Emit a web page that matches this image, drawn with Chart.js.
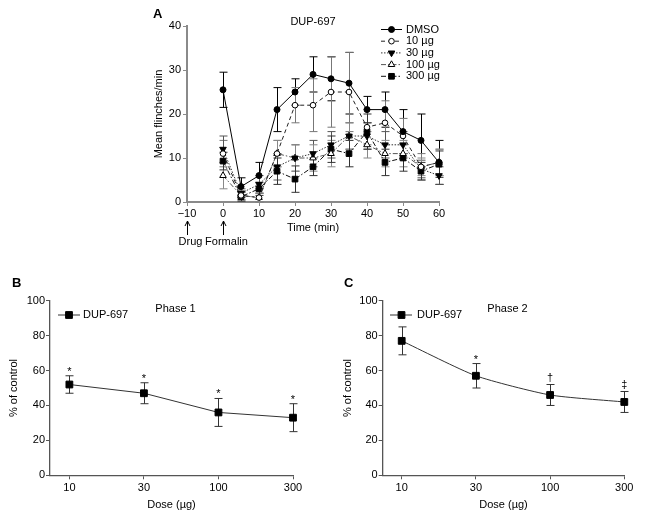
<!DOCTYPE html>
<html>
<head>
<meta charset="utf-8">
<script src="https://cdn.jsdelivr.net/npm/chart.js@4.4.1/dist/chart.umd.min.js"></script>
<style>
  html, body { margin: 0; padding: 0; background: #fff; }
  body { position: relative; width: 652px; height: 515px; overflow: hidden; }
  canvas { position: absolute; }
</style>
</head>
<body>
<canvas id="graficoA" width="652" height="252" style="left:0;top:0"></canvas>
<canvas id="graficoB" width="330" height="255" style="left:0;top:260px"></canvas>
<canvas id="graficoC" width="322" height="255" style="left:330px;top:260px"></canvas>
<script>
// Datos del panel A (curso temporal)
const tiempos = [0, 5, 10, 15, 20, 25, 30, 35, 40, 45, 50, 55, 60];
const grupos = ['DMSO', '10 µg', '30 µg', '100 µg', '300 µg'];
const dmso     = [25.5, 3.5, 6, 21, 25, 29, 28, 27, 21, 21, 16, 14, 9];
const dmsoErr  = [4, 2, 3, 5, 3, 4, 5, 7, 3, 4, 5, 6, 5];
const d10      = [11, 1.5, 1, 11, 22, 22, 25, 25, 17, 18, 15, 8, 9];
const d10Err   = [3, 1, 1, 3, 4, 6, 8, 9, 4, 5, 4, 3, 3];
const d30      = [12, 2, 4, 8, 10, 11, 13, 15, 15, 13, 13, 7.5, 6];
const d30Err   = [3, 1, 2, 3, 3, 3, 3, 3, 3, 3, 3, 2, 2];
const d100     = [6, 1.5, 1, 11, 10, 10, 11, 15, 13, 11, 11, 8, 9];
const d100Err  = [3, 1, 1, 3, 3, 3, 3, 3, 3, 3, 3, 2, 3];
const d300     = [9.3, 1.2, 3, 7, 5.2, 8, 12, 11, 16, 9, 10, 7, 8.6];
const d300Err  = [2, 1, 1.5, 3, 3, 2, 3, 3, 4, 3, 3, 2, 3];
const ticksTiempo = [-10, 0, 10, 20, 30, 40, 50, 60];
const flechas = [-10, 0];
const flechasTexto = ['Drug', 'Formalin'];

// Datos de los paneles B y C (dosis-respuesta)
const dosis = ['10', '30', '100', '300'];
const fase1    = [52, 47, 36, 33];
const fase1Err = [5, 6, 8, 8];
const fase1Sig = ['*', '*', '*', '*'];
const fase2    = [77, 57, 46, 42];
const fase2Err = [8, 7, 6, 6];
const fase2Sig = ['', '*', '†', '‡'];

const fuente = "'Liberation Sans', Arial, Helvetica, sans-serif";
Chart.defaults.font.family = fuente;
Chart.defaults.font.size = 11;
Chart.defaults.color = '#000';

function dibujarMarcador(ctx, ds, x, y) {
    ctx.save();
    ctx.setLineDash([]);
    ctx.fillStyle = ds.pointBackgroundColor;
    ctx.strokeStyle = ds.pointBorderColor;
    ctx.lineWidth = ds.pointBorderWidth;
    Chart.helpers.drawPoint(ctx, {
        pointStyle: ds.pointStyle,
        rotation: ds.pointRotation || 0,
        radius: ds.pointRadius,
        borderWidth: ds.pointBorderWidth
    }, x, y);
    ctx.restore();
}

// barras de error, debajo de las lineas
const pluginErrores = {
    id: 'errores',
    beforeDatasetsDraw(chart) {
        const ctx = chart.ctx;
        const yS = chart.scales.y;
        chart.data.datasets.forEach((ds, i) => {
            if (!ds.errores) return;
            const meta = chart.getDatasetMeta(i);
            ctx.save();
            ctx.strokeStyle = ds.colorError;
            ctx.lineWidth = 1;
            meta.data.forEach((pt, j) => {
                const v = ds.data[j].y, e = ds.errores[j];
                const y1 = yS.getPixelForValue(v + e);
                const y2 = yS.getPixelForValue(v - e);
                const x = Math.round(pt.x) + 0.5;
                ctx.beginPath();
                ctx.moveTo(x, y1); ctx.lineTo(x, y2);
                ctx.moveTo(x - 4, y1); ctx.lineTo(x + 4, y1);
                ctx.moveTo(x - 4, y2); ctx.lineTo(x + 4, y2);
                ctx.stroke();
            });
            ctx.restore();
        });
    }
};

// letras, titulo, leyenda, marcas de significancia y flechas
const pluginPanel = {
    id: 'panel',
    afterDraw(chart, args, o) {
        const { ctx, chartArea } = chart;
        ctx.save();
        ctx.fillStyle = '#000';
        ctx.textBaseline = 'middle';
        ctx.textAlign = 'left';
        ctx.font = 'bold 13px ' + fuente;
        ctx.fillText(o.letra, o.letraX, o.letraY);

        ctx.font = '11px ' + fuente;
        ctx.textAlign = 'center';
        ctx.fillText(o.titulo, (chartArea.left + chartArea.right) / 2 + o.tituloDx, o.tituloY);

        const L = o.leyenda;
        chart.data.datasets.forEach((ds, i) => {
            const y = L.y0 + i * L.dy;
            ctx.strokeStyle = ds.borderColor;
            ctx.lineWidth = 1;
            ctx.setLineDash(ds.borderDash || []);
            ctx.beginPath();
            ctx.moveTo(L.x0, y); ctx.lineTo(L.x1, y);
            ctx.stroke();
            ctx.setLineDash([]);
            dibujarMarcador(ctx, ds, L.xm, y);
            ctx.fillStyle = '#000';
            ctx.textAlign = 'left';
            ctx.textBaseline = 'middle';
            ctx.fillText(ds.label, L.xt, y);
        });

        if (o.marcas) {
            const ds = chart.data.datasets[0];
            const meta = chart.getDatasetMeta(0);
            ctx.textAlign = 'center';
            ctx.textBaseline = 'alphabetic';
            o.marcas.forEach((txt, j) => {
                if (!txt) return;
                const yTop = chart.scales.y.getPixelForValue(ds.data[j].y + ds.errores[j]);
                const m = ctx.measureText(txt);
                const yc = yTop - 7;
                ctx.fillText(txt, meta.data[j].x, yc + (m.actualBoundingBoxAscent - m.actualBoundingBoxDescent) / 2);
            });
        }

        if (o.flechas) {
            const xS = chart.scales.x;
            ctx.strokeStyle = '#000';
            ctx.lineWidth = 1;
            o.flechas.forEach((v, k) => {
                const x = Math.round(xS.getPixelForValue(v)) + 0.5;
                ctx.beginPath();
                ctx.moveTo(x, 235); ctx.lineTo(x, 221);
                ctx.moveTo(x - 2.5, 226); ctx.lineTo(x, 221); ctx.lineTo(x + 2.5, 226);
                ctx.stroke();
                ctx.textAlign = 'center';
                ctx.textBaseline = 'middle';
                ctx.fillText(o.flechasTexto[k], x + 3, 242);
            });
        }
        ctx.restore();
    }
};

function ejeBase(color, ancho) {
    return {
        border: { display: true, color: color, width: ancho },
        grid: { drawOnChartArea: false, drawTicks: true, tickLength: 4, color: color, lineWidth: 1 }
    };
}

// ---------- Panel A ----------
const estilosA = [
    { color: '#000', dash: [], estilo: 'circle', radio: 3, relleno: '#000', rot: 0, err: '#000' },
    { color: '#222', dash: [4, 3], estilo: 'circle', radio: 2.8, relleno: '#fff', rot: 0, err: '#777' },
    { color: '#333', dash: [1.5, 1.5], estilo: 'triangle', radio: 3.8, relleno: '#000', rot: 180, err: '#555' },
    { color: '#555', dash: [5, 2, 1.5, 2], estilo: 'triangle', radio: 3.8, relleno: '#fff', rot: 0, err: '#888' },
    { color: '#111', dash: [5, 2, 1.5, 2], estilo: 'rect', radio: 4, relleno: '#000', rot: 0, err: '#333' }
];
const seriesA = [dmso, d10, d30, d100, d300];
const erroresA = [dmsoErr, d10Err, d30Err, d100Err, d300Err];

new Chart(document.getElementById('graficoA'), {
    type: 'line',
    data: {
        datasets: seriesA.map((serie, i) => ({
            label: grupos[i],
            data: tiempos.map((t, j) => ({ x: t, y: serie[j] })),
            errores: erroresA[i],
            colorError: estilosA[i].err,
            borderColor: estilosA[i].color,
            borderWidth: 1,
            borderDash: estilosA[i].dash,
            pointStyle: estilosA[i].estilo,
            pointRotation: estilosA[i].rot,
            pointRadius: estilosA[i].radio,
            pointBackgroundColor: estilosA[i].relleno,
            pointBorderColor: '#000',
            pointBorderWidth: 1,
            tension: 0,
            fill: false,
            clip: false
        }))
    },
    options: {
        responsive: false,
        devicePixelRatio: 1,
        animation: false,
        events: [],
        layout: { padding: { left: 152, right: 213, top: 26, bottom: 17 } },
        plugins: {
            legend: { display: false },
            tooltip: { enabled: false },
            panel: {
                letra: 'A', letraX: 153, letraY: 14,
                titulo: 'DUP-697', tituloDx: 0, tituloY: 22,
                leyenda: { x0: 381, x1: 402, xm: 391.5, xt: 406, y0: 29.5, dy: 11.7 },
                flechas: flechas, flechasTexto: flechasTexto
            }
        },
        scales: {
            x: Object.assign(ejeBase('#8a8a8a', 2), {
                type: 'linear', min: -10, max: 60,
                afterBuildTicks: (s) => { s.ticks = ticksTiempo.map(v => ({ value: v })); },
                afterFit: (s) => { s.height = 33; s.paddingLeft = 0; s.paddingRight = 0; },
                ticks: { padding: 1, callback: (v) => String(v).replace('-', '−') },
                title: { display: true, text: 'Time (min)', padding: 0 }
            }),
            y: Object.assign(ejeBase('#8a8a8a', 2), {
                min: 0, max: 40,
                ticks: { stepSize: 10, padding: 2 },
                afterFit: (s) => { s.width = 35; s.paddingTop = 0; s.paddingBottom = 0; },
                title: { display: true, text: 'Mean flinches/min', padding: 0 }
            })
        }
    },
    plugins: [pluginErrores, pluginPanel]
});

// ---------- Paneles B y C ----------
function crearFase(id, valores, errores, marcas, cfg) {
    return new Chart(document.getElementById(id), {
        type: 'line',
        data: {
            datasets: [{
                label: 'DUP-697',
                data: dosis.map((d, i) => ({ x: i, y: valores[i] })),
                errores: errores,
                colorError: '#333',
                borderColor: '#333',
                borderWidth: 1,
                pointStyle: 'rect',
                pointRadius: 4.8,
                pointBackgroundColor: '#000',
                pointBorderColor: '#000',
                pointBorderWidth: 1,
                tension: cfg.curva,
                fill: false,
                clip: false
            }]
        },
        options: {
            responsive: false,
            devicePixelRatio: 1,
            animation: false,
            events: [],
            layout: { padding: { left: cfg.padIzq, right: cfg.padDer, top: 40.7, bottom: 3.4 } },
            plugins: {
                legend: { display: false },
                tooltip: { enabled: false },
                panel: {
                    letra: cfg.letra, letraX: cfg.letraX, letraY: 23,
                    titulo: cfg.titulo, tituloDx: 4, tituloY: 48.5,
                    leyenda: cfg.leyenda,
                    marcas: marcas
                }
            },
            scales: {
                x: Object.assign(ejeBase('#555', 1.3), {
                    type: 'linear', min: cfg.xMin, max: 3,
                    afterBuildTicks: (s) => { s.ticks = dosis.map((d, i) => ({ value: i })); },
                    afterFit: (s) => { s.height = 36.3; s.paddingLeft = 0; s.paddingRight = 0; },
                    ticks: { padding: 2, callback: (v) => dosis[v] },
                    title: { display: true, text: 'Dose (µg)', padding: 0 }
                }),
                y: Object.assign(ejeBase('#555', 1.3), {
                    min: 0, max: 100,
                    ticks: { stepSize: 20, padding: 1 },
                    afterFit: (s) => { s.width = cfg.anchoY; s.paddingTop = 0; s.paddingBottom = 0; },
                    title: { display: true, text: '% of control', padding: 0 }
                })
            }
        },
        plugins: [pluginErrores, pluginPanel]
    });
}

crearFase('graficoB', fase1, fase1Err, fase1Sig, {
    letra: 'B', letraX: 12, titulo: 'Phase 1', curva: 0,
    padIzq: 7.4, anchoY: 42.6, padDer: 37, xMin: -0.26,
    leyenda: { x0: 58, x1: 80, xm: 69, xt: 83, y0: 55, dy: 0 }
});

crearFase('graficoC', fase2, fase2Err, fase2Sig, {
    letra: 'C', letraX: 14, titulo: 'Phase 2', curva: 0.2,
    padIzq: 10.9, anchoY: 41.8, padDer: 27.7, xMin: -0.256,
    leyenda: { x0: 60, x1: 82, xm: 71.5, xt: 87, y0: 55, dy: 0 }
});
</script>
</body>
</html>
